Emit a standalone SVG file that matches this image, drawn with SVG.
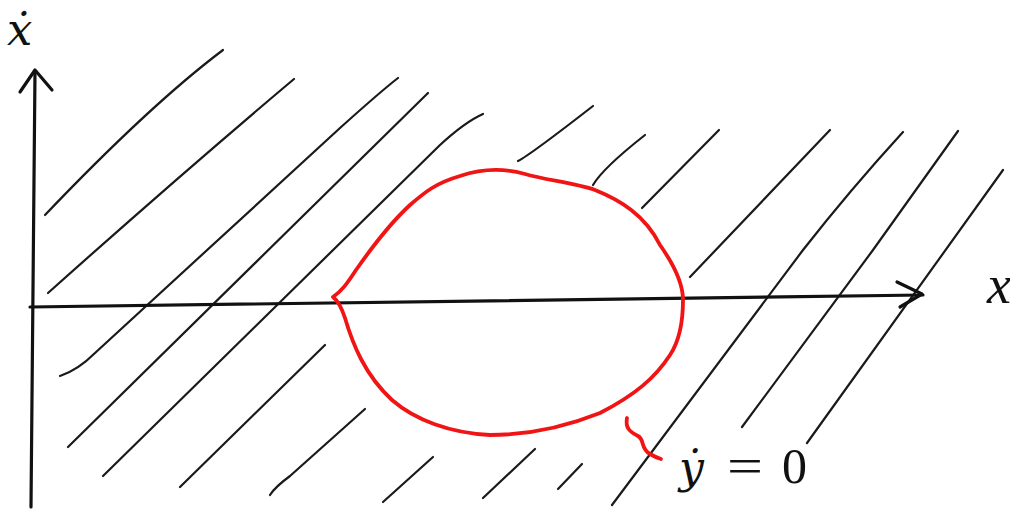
<svg xmlns="http://www.w3.org/2000/svg" width="1010" height="509" viewBox="0 0 1010 509">
<style>
.h{fill:none;stroke:#1a1a1a;stroke-width:2.2;stroke-linecap:round;stroke-linejoin:round}
.ax{fill:none;stroke:#111;stroke-width:3.2;stroke-linecap:round;stroke-linejoin:round}
.red{fill:none;stroke:#f01414;stroke-width:3.8;stroke-linecap:round;stroke-linejoin:round}
.lb{font-family:"Liberation Serif","DejaVu Serif",serif;fill:#111}
.dv{font-family:"DejaVu Serif","Liberation Serif",serif;fill:#111}
.it{font-style:italic}
</style>
<rect width="1010" height="509" fill="#fff"/>
<g id="hatching">
<path class="h" d="M45,215 Q150,105 223,50"/>
<path class="h" d="M48,293 Q180,175 294,79"/>
<path class="h" d="M60,376 Q78,370 95,353 L340,128 Q380,92 398,78"/>
<path class="h" d="M68,447 L428,93"/>
<path class="h" d="M103,476 L440,145 Q465,122 483,114"/>
<path class="h" d="M180,487 L325,345"/>
<path class="h" d="M270,495 Q275,487 290,476 L365,409"/>
<path class="h" d="M383,502 L433,457"/>
<path class="h" d="M483,498 L535,449"/>
<path class="h" d="M558,489 L582,464"/>
<path class="h" d="M612,505 L803,250 Q850,190 903,132"/>
<path class="h" d="M518,161 Q530,155 593,106"/>
<path class="h" d="M593,185 Q603,168 645,135"/>
<path class="h" d="M642,208 L719,130"/>
<path class="h" d="M690,277 L830,130"/>
<path class="h" d="M742,427 L873,250 L958,131"/>
<path class="h" d="M807,443 L1003,170"/>
</g>
<g id="axes">
<path class="ax" d="M31,507 L35,71"/>
<path class="ax" d="M20,92 L35,70 L52,90"/>
<path class="ax" d="M30,307 L923,295"/>
<path class="ax" d="M897,282 L922,294 L900,307"/>
</g>
<g id="curve">
<path class="red" d="M333,297 C343,290 348,282 356,270 C366,256 385,228 410,205 C425,192 436,183 460,176 C478,170 500,167 525,174 C545,180 575,183 595,190 C620,200 645,215 660,245 C672,262 683,282 683,300 C683,320 680,340 670,355 C655,378 635,395 600,413 C570,425 530,435 490,435 C450,433 415,420 392,400 C365,375 353,345 345,318 C341,306 337,300 333,297 Z"/>
<path class="red" d="M627,418 C625,428 630,432 638,436 C645,440 640,448 650,454 C655,457 658,458 661,459"/>
</g>
<g id="labels">
<text class="dv it" x="7" y="45" font-size="45">ẋ</text>
<text class="lb it" x="987" y="303" font-size="54">x</text>
<text class="dv it" x="679" y="483" font-size="44">ẏ</text>
<text class="lb" x="727" y="483" font-size="50" textLength="36" lengthAdjust="spacingAndGlyphs">=</text>
<text class="lb" x="782" y="483" font-size="50">0</text>
</g>
</svg>
